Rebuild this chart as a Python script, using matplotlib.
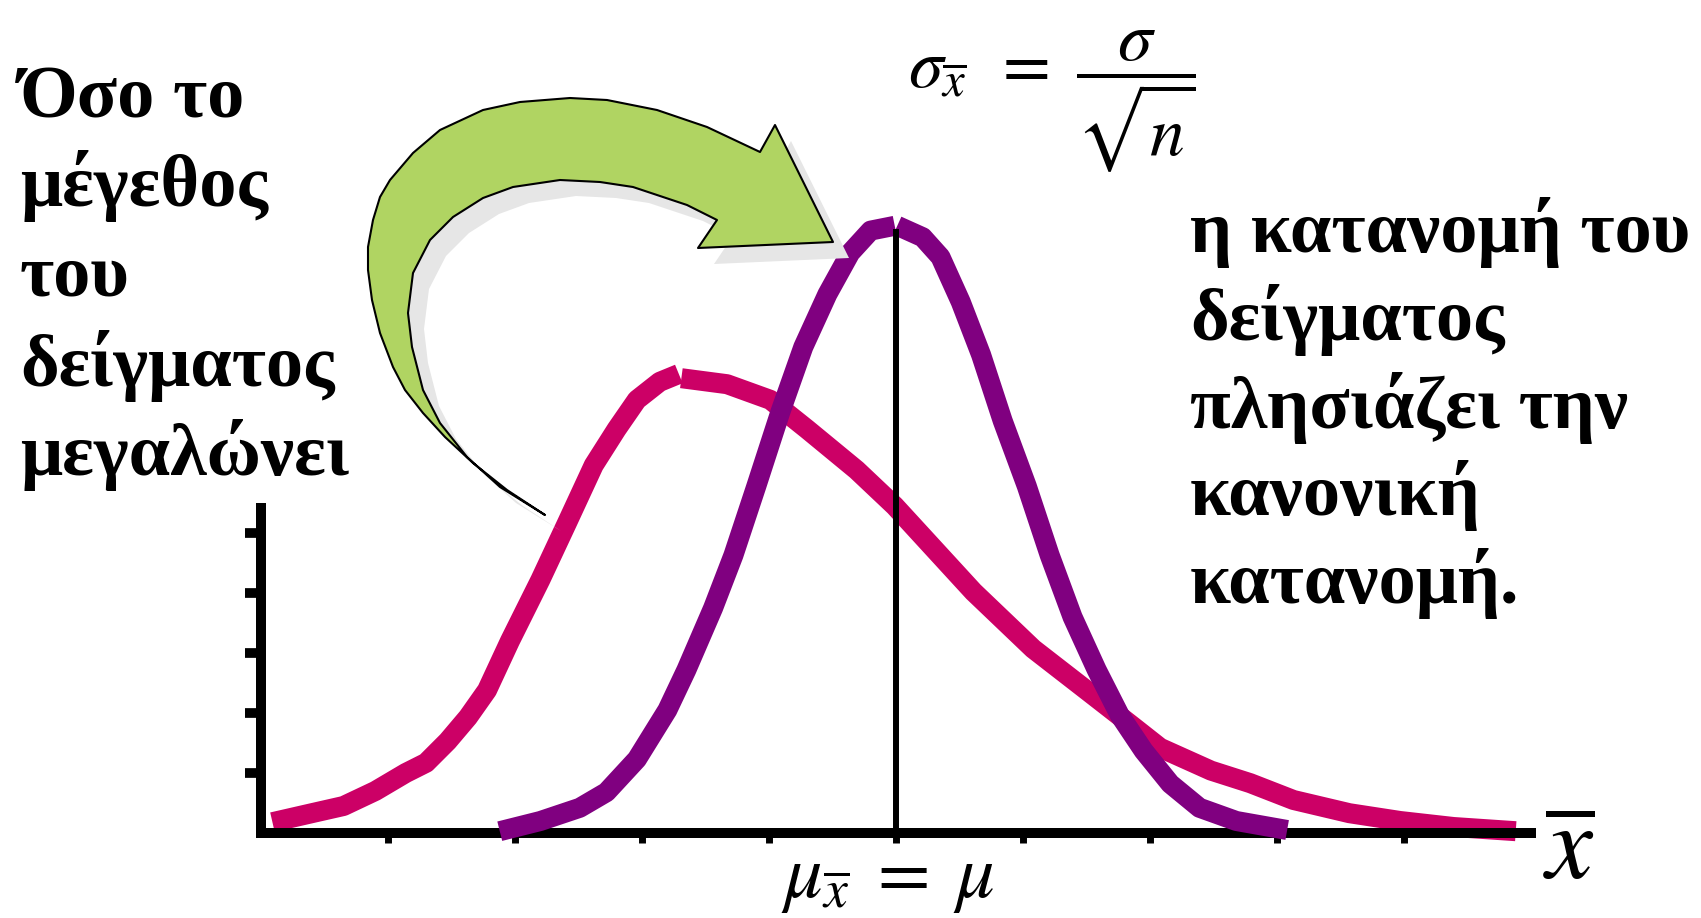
import matplotlib
matplotlib.use("Agg")
import matplotlib.pyplot as plt
from matplotlib.patches import Polygon

plt.rcParams['font.family'] = ['Liberation Serif', 'DejaVu Serif']
plt.rcParams['mathtext.fontset'] = 'stix'

W, H = 1701, 918

# ευρεία κατανομή (μικρό n) - δύο κομμάτια που ενώνονται στην κορυφή
pink_left_x = [0.09, 0.40, 0.65, 0.90, 1.14, 1.30, 1.47, 1.63, 1.78, 1.96, 2.20, 2.41, 2.62, 2.80, 2.96, 3.14, 3.29]
pink_left_y = [0.18, 0.33, 0.45, 0.70, 1.00, 1.17, 1.53, 1.93, 2.38, 3.20, 4.22, 5.17, 6.13, 6.73, 7.22, 7.52, 7.65]
pink_right_x = [3.31, 3.67, 4.01, 4.30, 4.69, 4.99, 5.61, 6.08, 6.50, 6.87, 7.08, 7.48, 7.79, 8.13, 8.57, 8.97, 9.39, 9.88]
pink_right_y = [7.58, 7.48, 7.22, 6.73, 6.05, 5.45, 4.02, 3.07, 2.38, 1.77, 1.42, 1.04, 0.83, 0.55, 0.33, 0.20, 0.10, 0.03]

# στενή κατανομή (μεγάλο n)
purple_left_x = [1.88, 2.20, 2.51, 2.72, 2.96, 3.20, 3.35, 3.56, 3.72, 3.90, 4.09, 4.27, 4.46, 4.64, 4.80, 4.99]
purple_left_y = [0.03, 0.20, 0.42, 0.68, 1.23, 2.05, 2.72, 3.75, 4.63, 5.78, 7.02, 8.10, 8.98, 9.67, 10.04, 10.12]
purple_right_x = [5.01, 5.21, 5.35, 5.51, 5.67, 5.84, 6.03, 6.21, 6.39, 6.58, 6.76, 6.95, 7.16, 7.39, 7.68, 8.08]
purple_right_y = [10.12, 9.93, 9.60, 8.85, 7.97, 6.87, 5.78, 4.63, 3.60, 2.72, 1.97, 1.37, 0.82, 0.42, 0.20, 0.05]

mean_x = 5.0
mean_top = 10.07
x_ticks = [1, 2, 3, 4, 5, 6, 7, 8, 9]
y_ticks = [1, 2, 3, 4, 5]

left_lines = ["Όσο το", "μέγεθος", "του", "δείγματος", "μεγαλώνει"]
right_lines = ["η κατανομή του", "δείγματος", "πλησιάζει την", "κανονική", "κατανομή."]

# καμπύλο βέλος (σε pixels της εικόνας)
arrow_px = [(545, 515), (507, 490), (473, 463), (445, 437), (423, 413), (405, 390), (393, 367),
            (380, 333), (372, 300), (368, 270), (368, 247), (373, 220), (380, 197), (390, 180),
            (413, 153), (440, 130), (483, 110), (520, 102), (570, 98), (607, 100), (657, 110),
            (707, 127), (760, 152),
            (775, 125), (833, 242), (698, 248), (717, 220),
            (687, 205), (633, 187), (600, 182), (560, 180), (513, 187), (483, 198), (453, 217),
            (430, 240), (413, 273), (408, 313), (412, 347), (423, 390), (440, 423), (467, 457),
            (500, 487)]

X0, Y0 = 261, 833      # θέση της αρχής των αξόνων
SX, SY = 127, 60       # pixels ανά μονάδα


def px(x, y):
    return ((x - X0) / SX, (Y0 - y) / SY)


fig = plt.figure(figsize=(W / 100, H / 100), dpi=100)
ax = fig.add_axes([0, 0, 1, 1])
ax.set_xlim(-X0 / SX, (W - X0) / SX)
ax.set_ylim((Y0 - H) / SY, Y0 / SY)

pink = '#CC0066'
purple = '#800080'
lw = 14.4
ax.plot(pink_left_x, pink_left_y, color=pink, lw=lw, solid_capstyle='butt', zorder=2)
ax.plot(pink_right_x, pink_right_y, color=pink, lw=lw, solid_capstyle='butt', zorder=2)
ax.plot(purple_left_x, purple_left_y, color=purple, lw=lw, solid_capstyle='butt', zorder=3)
ax.plot(purple_right_x, purple_right_y, color=purple, lw=lw, solid_capstyle='butt', zorder=3)
ax.plot([mean_x, mean_x], [0, mean_top], color='black', lw=4.3, solid_capstyle='butt', zorder=4)

for side in ['top', 'right']:
    ax.spines[side].set_visible(False)
ax.spines['left'].set_position(('data', 0))
ax.spines['bottom'].set_position(('data', 0))
ax.spines['left'].set_bounds(0, 5.42)
ax.spines['bottom'].set_bounds(0, 10.0)
for side in ['left', 'bottom']:
    ax.spines[side].set_linewidth(7.2)
    ax.spines[side].set_capstyle('projecting')
ax.set_xticks(x_ticks)
ax.set_yticks(y_ticks)
ax.tick_params(axis='y', direction='out', length=11.5, width=7, labelleft=False)
ax.tick_params(axis='x', direction='out', length=7, width=5, labelbottom=False)
ax.set_facecolor('white')

shadow = [px(x + 16, y + 16) for x, y in arrow_px]
ax.add_patch(Polygon(shadow, closed=True, facecolor='#E6E6E6', edgecolor='none', zorder=5))
ax.add_patch(Polygon([px(x, y) for x, y in arrow_px], closed=True, facecolor='#B0D462',
                     edgecolor='black', lw=1.5, joinstyle='round', zorder=6))

for i, line in enumerate(left_lines):
    fig.text(20 / W, 1 - (117 + 89.5 * i) / H, line, fontsize=53.5, fontweight='bold',
             ha='left', va='baseline')
for i, line in enumerate(right_lines):
    fig.text(1190 / W, 1 - (252 + 87.8 * i) / H, line, fontsize=53.5, fontweight='bold',
             ha='left', va='baseline')

fig.text(908 / W, 1 - 87 / H, r'$\sigma_{\overline{x}}\ \,=\ \dfrac{\sigma}{\sqrt{n}}$',
         fontsize=50, ha='left', va='baseline')
fig.text(888 / W, 1 - 897 / H, r'$\mu_{\overline{x}}\;=\;\mu$', fontsize=55,
         ha='center', va='baseline')
fig.text(1543 / W, 1 - 880 / H, r'$\overline{x}$', fontsize=76, ha='left', va='baseline')

fig.savefig('out.png', dpi=100, facecolor='white')
